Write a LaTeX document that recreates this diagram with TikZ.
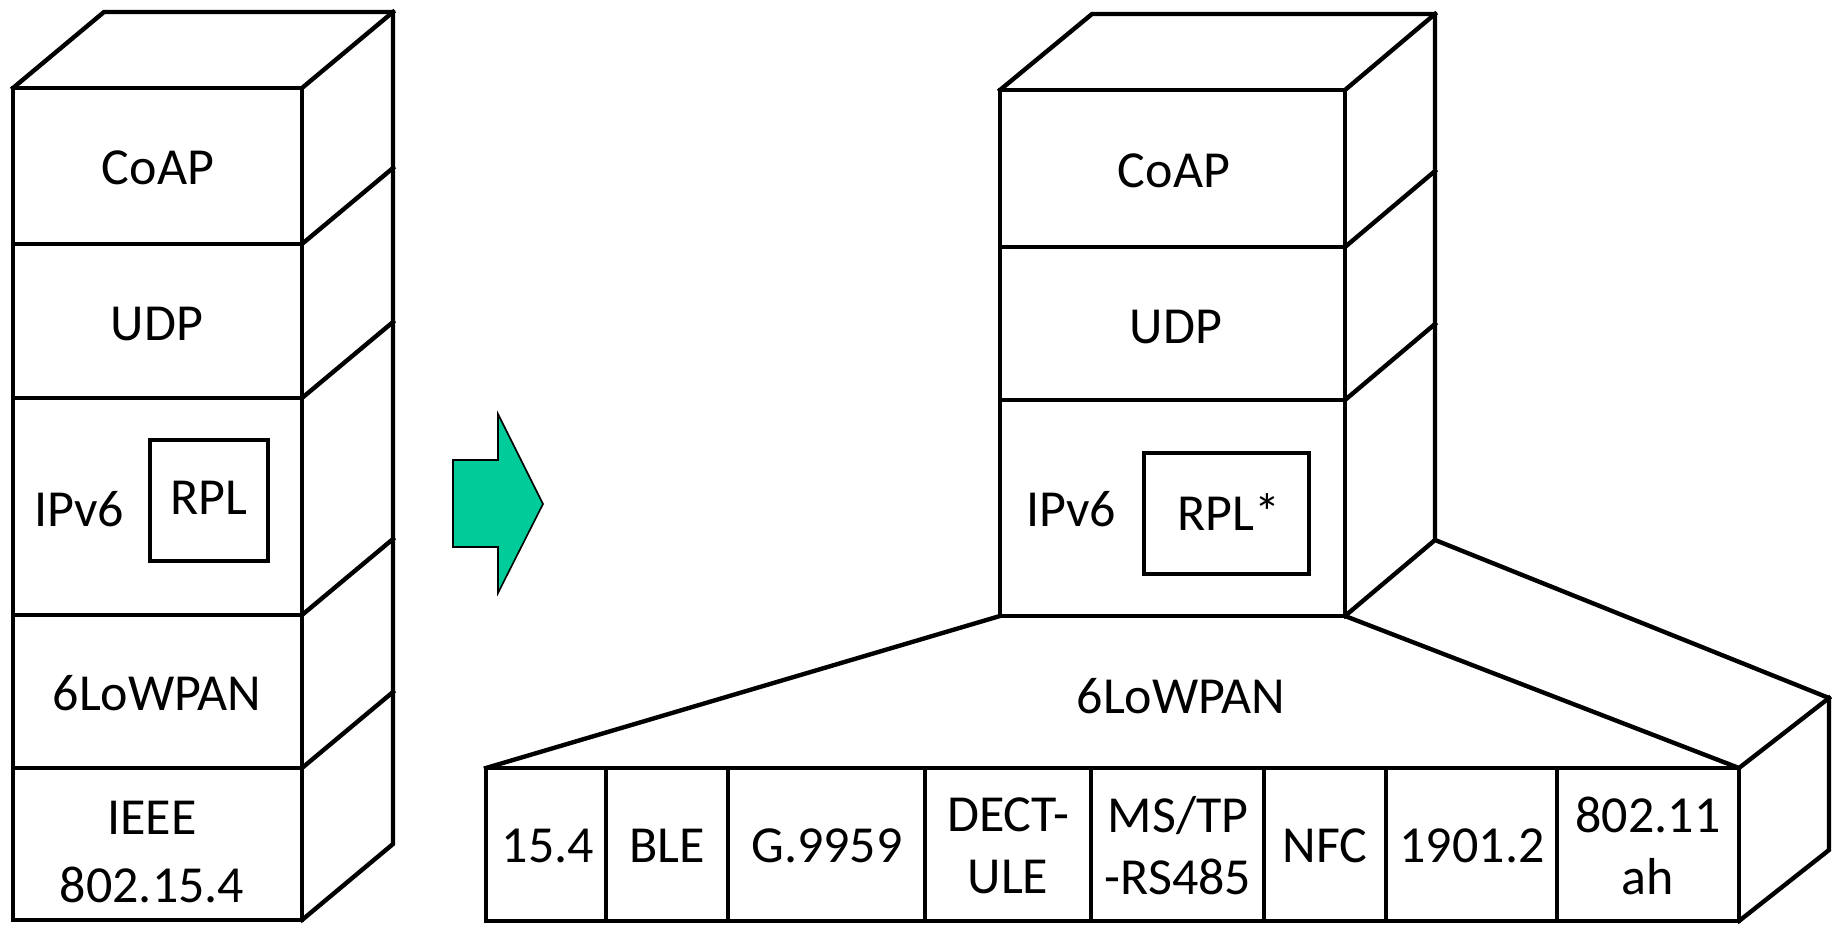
\documentclass[tikz,border=0pt]{standalone}
\usepackage{fontspec}
\setmainfont{Carlito}
\definecolor{arrowgreen}{RGB}{0,204,153}
\tikzset{
  edge/.style={line width=2.2pt, line join=miter, line cap=rect},
  lbl/.style={font=\fontsize{26}{31}\selectfont, align=center, inner sep=0pt},
}
\begin{document}
\begin{tikzpicture}[x=0.5pt,y=-0.5pt]
\useasboundingbox (0,0) rectangle (1832,925);

% ---------- left protocol stack ----------
\draw[edge] (13,88) rectangle (302,920);
\foreach \yy in {244,398,615,768}
  \draw[edge] (13,\yy) -- (302,\yy);
\draw[edge] (13,88) -- (104,12) -- (393,12) -- (393,844) -- (302,920);
\foreach \yy in {88,244,398,615,768}
  \draw[edge] (302,\yy) -- (393,\yy-76);
\draw[edge] (150,440) rectangle (268,561);

\node[lbl] (lcoap) at (158,168) {CoAP};
\node[lbl] (ludp)  at (157,324) {UDP};
\node[lbl] (lipv6) at (79,509) {IPv6};
\node[lbl] (lrpl)  at (209,498) {RPL};
\node[lbl] (llow)  at (157,693) {6LoWPAN};
\node[lbl] (lieee) at (152,852) {IEEE\\[3pt]802.15.4};

% ---------- transition arrow ----------
\draw[fill=arrowgreen, line width=0.8pt, line join=miter]
  (453,460) -- (498,460) -- (498,414) -- (543,504) -- (498,593)
  -- (498,547) -- (453,547) -- cycle;

% ---------- right protocol stack ----------
\draw[edge] (1000,90) rectangle (1345,616);
\foreach \yy in {247,400}
  \draw[edge] (1000,\yy) -- (1345,\yy);
\draw[edge] (1000,90) -- (1092,14) -- (1435,14) -- (1435,540) -- (1345,616);
\foreach \yy in {90,247,400}
  \draw[edge] (1345,\yy) -- (1435,\yy-76);
\draw[edge] (1144,453) rectangle (1309,574);

\node[lbl] (rcoap) at (1174,171) {CoAP};
\node[lbl] (rudp)  at (1176,327) {UDP};
\node[lbl] (ripv6) at (1071,509) {IPv6};
\node[lbl] (rrpl)  at (1229,512) {RPL*};

% ---------- 6LoWPAN fan-out to link layers ----------
\draw[edge] (1000,616) -- (486,768);
\draw[edge] (1345,616) -- (1739,768);
\draw[edge] (1435,540) -- (1829,698) -- (1829,850) -- (1739,921);
\draw[edge] (1739,768) -- (1829,698);
\node[lbl] (rlow) at (1181,696) {6LoWPAN};

\draw[edge] (486,768) rectangle (1739,921);
\foreach \xx in {606,728,925,1091,1264,1386,1557}
  \draw[edge] (\xx,768) -- (\xx,921);

\node[lbl] (l154)  at (548,846)  {15.4};
\node[lbl] (lble)  at (667,846)  {BLE};
\node[lbl] (lg)    at (827,846)  {G.9959};
\node[lbl] (ldect) at (1008,846) {DECT-\\ULE};
\node[lbl] (lms)   at (1178,846) {MS/TP\\-RS485};
\node[lbl] (lnfc)  at (1325,846) {NFC};
\node[lbl] (l1901) at (1472,846) {1901.2};
\node[lbl] (lah)   at (1648,846) {802.11\\ah};
\end{tikzpicture}
\end{document}
